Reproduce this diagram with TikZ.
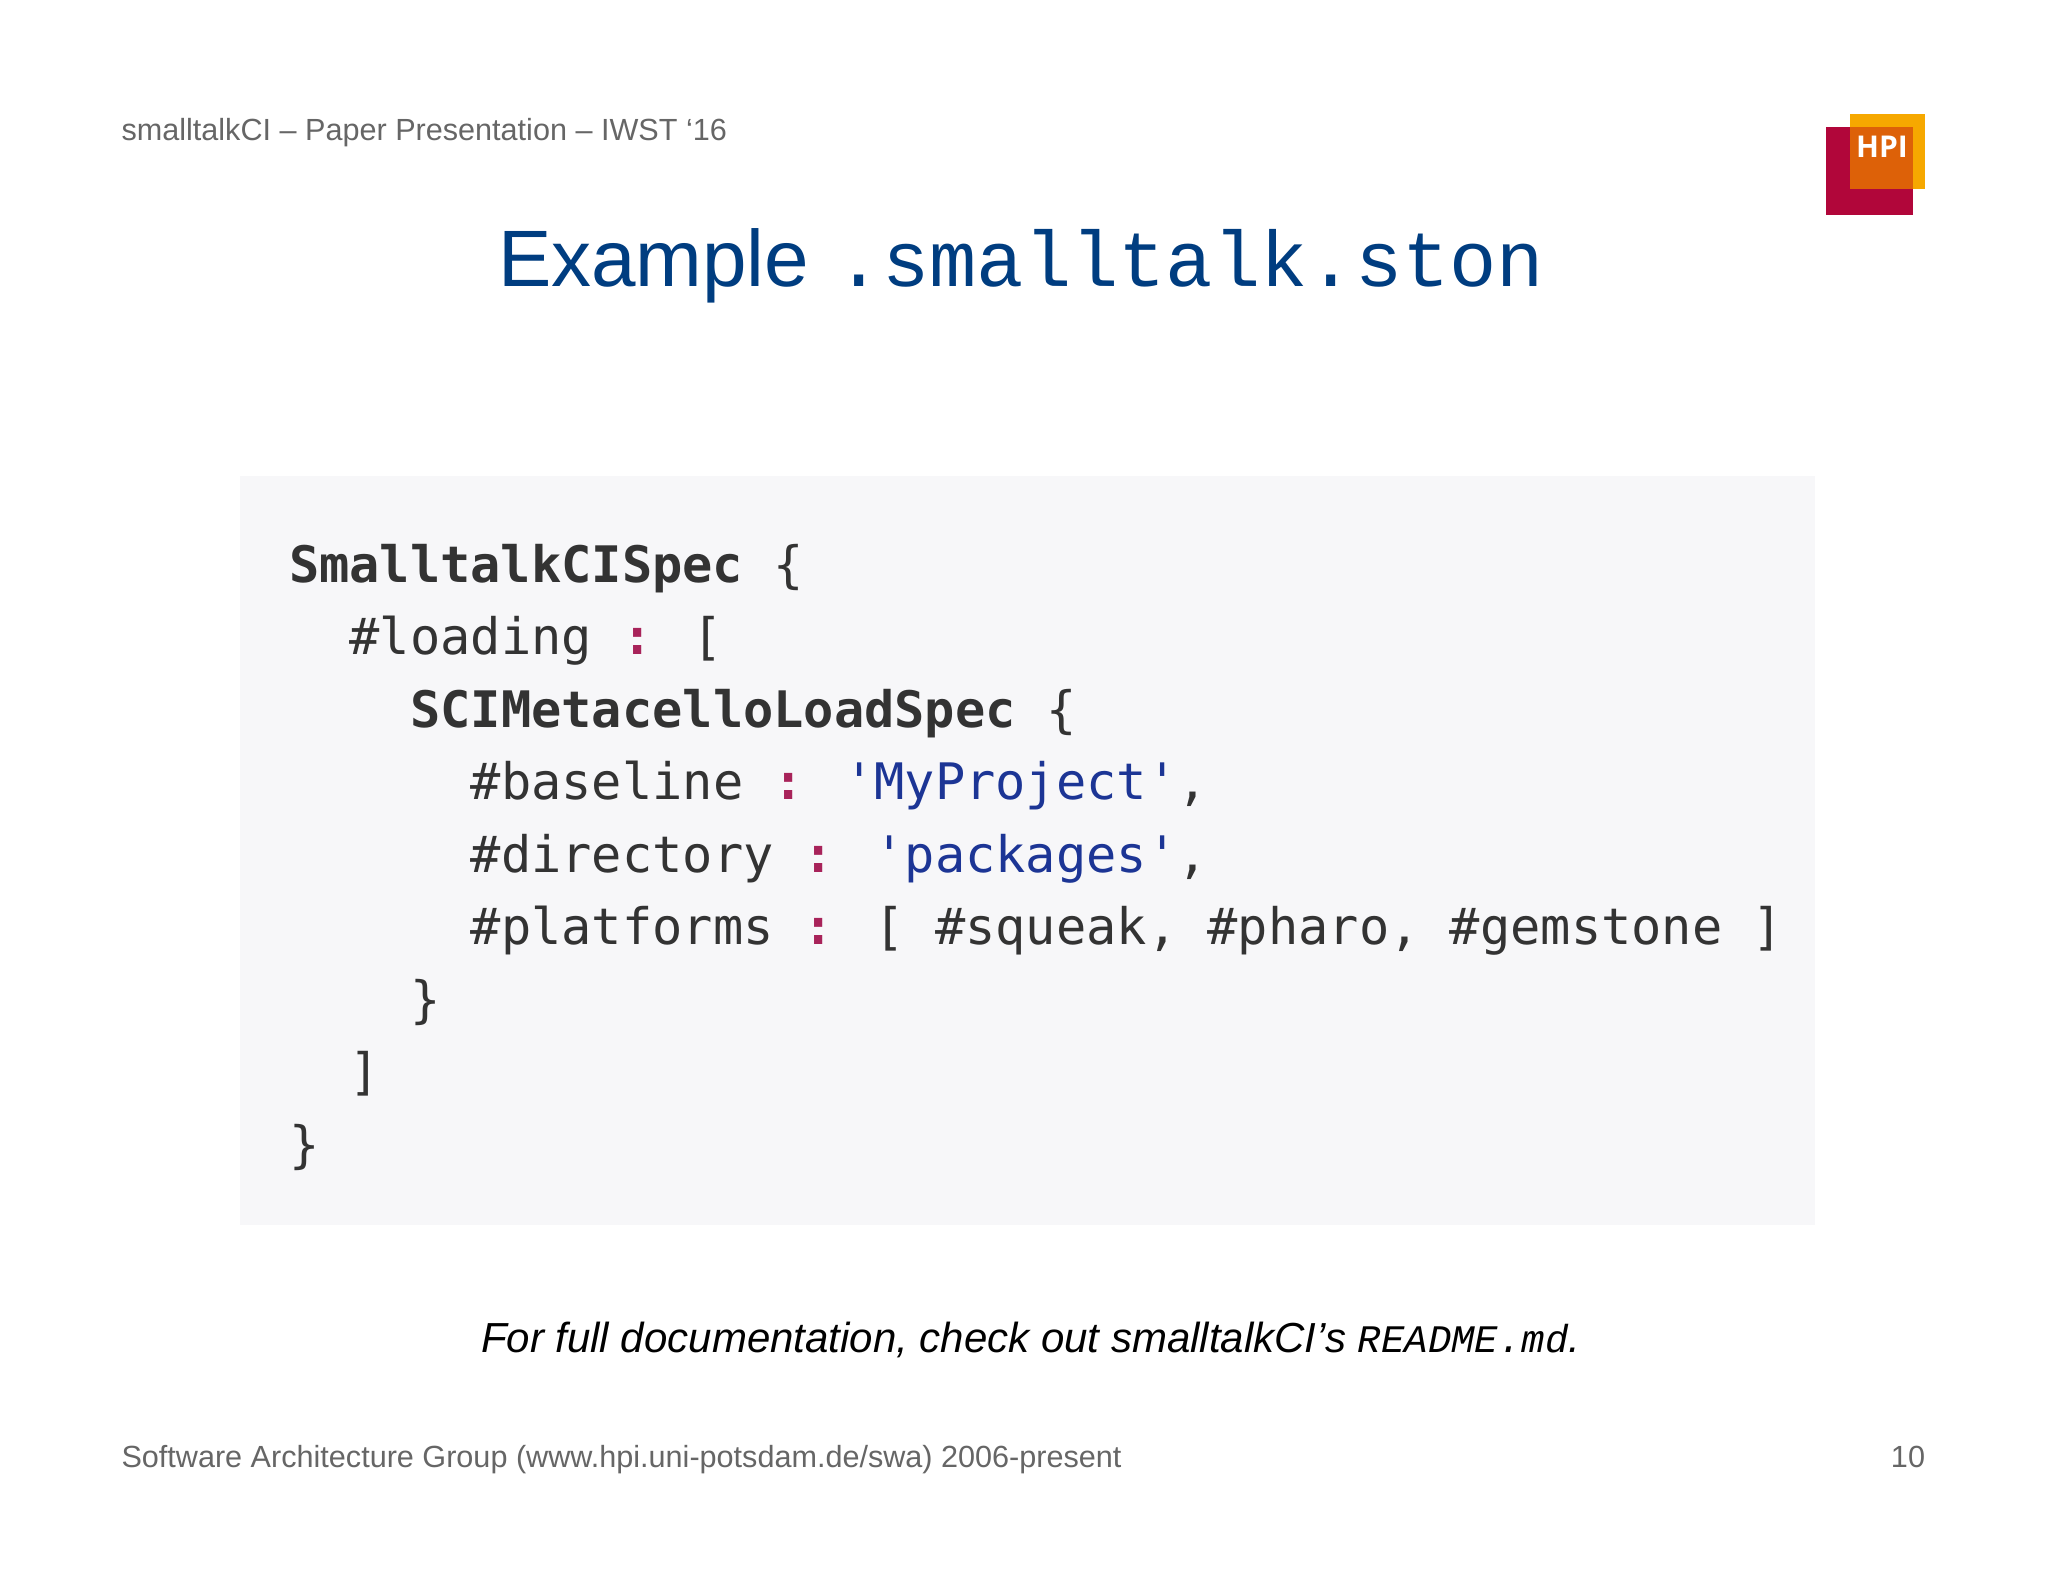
\documentclass[tikz,border=0pt]{standalone}
\usepackage{fontspec}
\setmainfont{Liberation Sans}
\setmonofont{Liberation Mono}
\newfontfamily\codefont{DejaVu Sans Mono}
\newfontfamily\logofont{Open Sans}
\definecolor{hpired}{HTML}{B1063A}
\definecolor{hpiyellow}{HTML}{F6A800}
\definecolor{hpiorange}{HTML}{DD6108}
\definecolor{titleblue}{HTML}{003D80}
\definecolor{greytext}{HTML}{666666}
\definecolor{codebg}{HTML}{F7F7F9}
\definecolor{codeink}{HTML}{333333}
\definecolor{codepunct}{HTML}{A8235A}
\definecolor{codestr}{HTML}{1C3595}
\newcommand{\pu}[1]{\textcolor{codepunct}{\textbf{#1}}}
\newcommand{\st}[1]{\textcolor{codestr}{#1}}
\tikzset{
  txt/.style={inner sep=0pt,outer sep=0pt,anchor=base west},
  chrome/.style={txt,text=greytext,font=\fontsize{15.3}{18}\selectfont},
  codeline/.style={txt,text=codeink,font=\codefont\fontsize{25.15}{30}\selectfont}
}
\begin{document}
\begin{tikzpicture}[x=0.5pt,y=-0.5pt]
\useasboundingbox (0,0) rectangle (2048,1582);
\fill[white] (0,0) rectangle (2048,1582);
% logo
\fill[hpired] (1826,127) rectangle (1913,215);
\fill[hpiyellow] (1850,114) rectangle (1925,189);
\fill[hpiorange] (1850,127) rectangle (1913,189);
\node[inner sep=0pt,anchor=base,text=white,font=\logofont\bfseries\fontsize{15}{18}\selectfont] (logo) at (1882,158) {HPI};
% header and title
\node[chrome] (head) at (121.5,141) {smalltalkCI – Paper Presentation – IWST ‘16};
\node[txt,text=titleblue,font=\fontsize{40}{48}\selectfont] (title) at (498,287) {Example};
\node[txt,text=titleblue,font=\ttfamily\fontsize{39.4}{48}\selectfont] (titlecode) at (835,287) {.smalltalk.ston};
% code
\fill[codebg] (240,476) rectangle (1815,1225);
\node[codeline] (l1) at (289,582) {\textbf{SmalltalkCISpec} \{};
\node[codeline] (l2) at (349.6,654.5) {\#loading \pu{:} [};
\node[codeline] (l3) at (410.2,727) {\textbf{SCIMetacelloLoadSpec} \{};
\node[codeline] (l4) at (470.8,799.5) {\#baseline \pu{:} \st{'MyProject'},};
\node[codeline] (l5) at (470.8,872) {\#directory \pu{:} \st{'packages'},};
\node[codeline] (l6) at (470.8,944.5) {\#platforms \pu{:} [ \#squeak, \#pharo, \#gemstone ]};
\node[codeline] (l7) at (410.2,1017) {\}};
\node[codeline] (l8) at (349.6,1089.5) {]};
\node[codeline] (l9) at (289,1162) {\}};
% note
\node[txt,text=black,font=\itshape\fontsize{21}{25}\selectfont] (note) at (481,1352) {For full documentation, check out smalltalkCI’s {\ttfamily\fontsize{19.5}{25}\selectfont README.md}.};
% footer
\node[chrome] (foot) at (121.5,1467) {Software Architecture Group (www.hpi.uni-potsdam.de/swa) 2006-present};
\node[chrome,anchor=base east] (page) at (1925,1467) {10};
\end{tikzpicture}
\end{document}
